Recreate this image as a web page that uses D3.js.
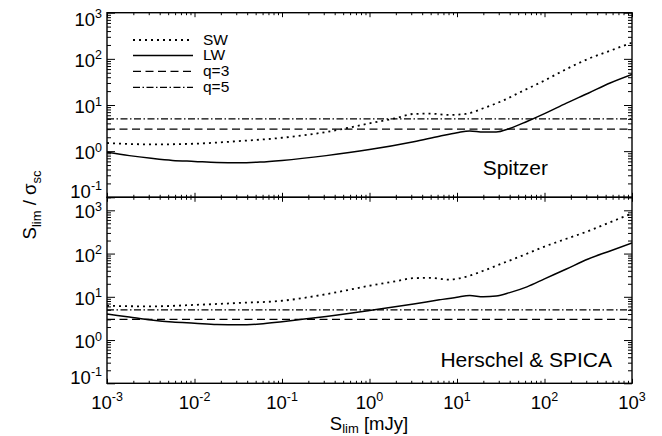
<!DOCTYPE html>
<html><head><meta charset="utf-8">
<script src="https://cdn.jsdelivr.net/npm/d3@7"></script>
<style>body{margin:0;background:#fff}svg{display:block}</style>
</head><body><svg id="c" width="662" height="436"></svg>
<script>
// ---------------- data ----------------
const xTicks = [1e-3, 1e-2, 1e-1, 1, 1e1, 1e2, 1e3];
const xTickExps = ["-3", "-2", "-1", "0", "1", "2", "3"];
const yTicks = [1e-1, 1, 1e1, 1e2, 1e3];
const yTickExps = ["-1", "0", "1", "2", "3"];
const qLevels = [3, 5];
const legendLabels = ["SW", "LW", "q=3", "q=5"];
const panelNames = ["Spitzer", "Herschel & SPICA"];

// Spitzer panel
const spitzerSW_S = [1e-3, 3.2e-3, 1e-2, 3.2e-2, 1e-1, 3.2e-1, 1, 2, 3.2, 5, 8, 12.6, 20, 32, 56, 100, 178, 316, 562, 1000];
const spitzerSW_R = [1.5, 1.4, 1.45, 1.65, 1.95, 2.6, 4.0, 5.2, 6.4, 6.5, 6.1, 6.4, 8.5, 12, 20, 34, 60, 100, 150, 225];
const spitzerLW_S = [1e-3, 1.8e-3, 3.2e-3, 5.6e-3, 1e-2, 1.8e-2, 3.2e-2, 5.6e-2, 1e-1, 3.2e-1, 1, 3.2, 6.3, 10, 14, 20, 28, 40, 63, 100, 178, 316, 562, 1000];
const spitzerLW_R = [0.95, 0.8, 0.7, 0.63, 0.6, 0.57, 0.56, 0.58, 0.63, 0.8, 1.08, 1.6, 2.1, 2.5, 2.75, 2.6, 2.6, 3.1, 4.4, 6.5, 11, 18, 30, 46];

// Herschel & SPICA panel
const herschelSW_S = [1e-3, 3.2e-3, 1e-2, 3.2e-2, 1e-1, 3.2e-1, 1, 2, 3.2, 5, 8, 12.6, 20, 32, 56, 100, 178, 316, 562, 1000];
const herschelSW_R = [6.2, 6.0, 6.5, 7.2, 8.1, 11.5, 18, 23, 27, 27.5, 25, 29, 40, 58, 90, 145, 220, 330, 530, 850];
const herschelLW_S = [1e-3, 1.8e-3, 3.2e-3, 5.6e-3, 1e-2, 1.8e-2, 3.2e-2, 5.6e-2, 1e-1, 1.8e-1, 3.2e-1, 1, 3.2, 6.3, 10, 14, 20, 28, 40, 63, 100, 178, 316, 562, 1000];
const herschelLW_R = [4.0, 3.4, 2.9, 2.6, 2.45, 2.3, 2.25, 2.35, 2.65, 3.05, 3.5, 4.8, 6.8, 8.5, 9.8, 10.7, 10.0, 10.4, 12.5, 17, 26, 44, 75, 115, 175];

// ---------------- drawing ----------------
const FONT = "'Liberation Sans', Arial, Helvetica, sans-serif";
const svg = d3.select("#c").style("font-family", FONT);
const L = 107, R = 632;
const x = d3.scaleLog().domain([1e-3, 1e3]).range([L, R]);

const STY = {
  SW: {dash: "2,4", w: 1.8},
  LW: {dash: null, w: 1.5},
  q3: {dash: "8,4.5", w: 1.3},
  q5: {dash: "7,2.5,1.5,2.5", w: 1.3}
};

const minorX = [];
for (let e = -3; e < 3; e++) for (let m = 2; m <= 9; m++) minorX.push(m * Math.pow(10, e));
const minorY = [];
for (let e = -1; e < 4; e++) for (let m = 2; m <= 9; m++) minorY.push(m * Math.pow(10, e));

const panels = [
  {top: 12.7, bottom: 197.3, ymax: 1e3,
   series: [[spitzerSW_S, spitzerSW_R, STY.SW], [spitzerLW_S, spitzerLW_R, STY.LW]],
   name: panelNames[0], nameX: 548, nameY: 175},
  {top: 197.3, bottom: 383.3, ymax: 2000,
   series: [[herschelSW_S, herschelSW_R, STY.SW], [herschelLW_S, herschelLW_R, STY.LW]],
   name: panelNames[1], nameX: 612, nameY: 366.7}
];

panels.forEach((p, i) => {
  const y = d3.scaleLog().domain([0.1, p.ymax]).range([p.bottom, p.top]);
  const g = svg.append("g");
  const cid = "clip" + i;
  svg.append("clipPath").attr("id", cid).append("rect")
    .attr("x", L).attr("y", p.top).attr("width", R - L).attr("height", p.bottom - p.top);

  const yMin = minorY.filter(v => v <= p.ymax);
  const addAxis = (axis, tx, ty) => {
    const a = g.append("g").attr("transform", `translate(${tx},${ty})`).call(axis);
    a.select(".domain").remove();
    a.selectAll("line").attr("stroke", "#000").attr("stroke-width", 1);
  };
  addAxis(d3.axisLeft(y).tickValues(yTicks).tickSizeInner(-8).tickSizeOuter(0).tickFormat(""), L, 0);
  addAxis(d3.axisLeft(y).tickValues(yMin).tickSizeInner(-4).tickSizeOuter(0).tickFormat(""), L, 0);
  addAxis(d3.axisRight(y).tickValues(yTicks).tickSizeInner(-8).tickSizeOuter(0).tickFormat(""), R, 0);
  addAxis(d3.axisRight(y).tickValues(yMin).tickSizeInner(-4).tickSizeOuter(0).tickFormat(""), R, 0);
  addAxis(d3.axisTop(x).tickValues(xTicks).tickSizeInner(-4.5).tickSizeOuter(0).tickFormat(""), 0, p.top);
  addAxis(d3.axisTop(x).tickValues(minorX).tickSizeInner(-2.5).tickSizeOuter(0).tickFormat(""), 0, p.top);
  addAxis(d3.axisBottom(x).tickValues(xTicks).tickSizeInner(-4.5).tickSizeOuter(0).tickFormat(""), 0, p.bottom);
  addAxis(d3.axisBottom(x).tickValues(minorX).tickSizeInner(-2.5).tickSizeOuter(0).tickFormat(""), 0, p.bottom);

  g.append("rect").attr("x", L).attr("y", p.top).attr("width", R - L).attr("height", p.bottom - p.top)
    .attr("fill", "none").attr("stroke", "#000").attr("stroke-width", 1.4);

  yTicks.forEach((v, k) => {
    let cy = y(v) + 1.5;
    cy = Math.max(p.top + 6.5, Math.min(p.bottom - 6, cy));
    const t = g.append("text").attr("x", 102).attr("y", cy + 6.5)
      .attr("text-anchor", "end").attr("font-size", 18.5).attr("fill", "#000");
    t.append("tspan").text("10");
    t.append("tspan").attr("font-size", 12.5).attr("dy", -7.5).text(yTickExps[k]);
  });

  const cg = g.append("g").attr("clip-path", `url(#${cid})`);
  qLevels.forEach((q, k) => {
    const s = k === 0 ? STY.q3 : STY.q5;
    cg.append("line").attr("x1", L).attr("x2", R).attr("y1", y(q)).attr("y2", y(q))
      .attr("stroke", "#000").attr("stroke-width", s.w).attr("stroke-dasharray", s.dash);
  });

  p.series.forEach(([S, Rv, s]) => {
    const line = d3.line().x(d => x(d[0])).y(d => y(d[1])).curve(d3.curveMonotoneX);
    cg.append("path").datum(S.map((v, j) => [v, Rv[j]])).attr("d", line)
      .attr("fill", "none").attr("stroke", "#000").attr("stroke-width", s.w)
      .attr("stroke-dasharray", s.dash);
  });

  g.append("text").attr("x", p.nameX).attr("y", p.nameY).attr("text-anchor", "end")
    .attr("font-size", 21).attr("fill", "#000").text(p.name);
});

xTicks.forEach((v, k) => {
  const t = svg.append("text").attr("x", x(v)).attr("y", 408.5).attr("text-anchor", "middle")
    .attr("font-size", 18.5).attr("fill", "#000");
  t.append("tspan").text("10");
  t.append("tspan").attr("font-size", 12.5).attr("dy", -7.5).text(xTickExps[k]);
});

const xt = svg.append("text").attr("x", 369).attr("y", 430).attr("text-anchor", "middle")
  .attr("font-size", 18.5).attr("fill", "#000");
xt.append("tspan").text("S");
xt.append("tspan").attr("font-size", 13).attr("dy", 3).text("lim");
xt.append("tspan").attr("dy", -3).text(" [mJy]");

const yt = svg.append("text").attr("transform", "translate(36,205) rotate(-90)")
  .attr("text-anchor", "middle").attr("font-size", 18.5).attr("fill", "#000");
yt.append("tspan").text("S");
yt.append("tspan").attr("font-size", 13).attr("dy", 5).text("lim");
yt.append("tspan").attr("dy", -5).text(" / σ");
yt.append("tspan").attr("font-size", 13).attr("dy", 5).text("sc");

const legStyles = [STY.SW, STY.LW, STY.q3, STY.q5];
const legY = [40, 55.5, 71.3, 87.3];
legendLabels.forEach((lab, k) => {
  const s = legStyles[k];
  svg.append("line").attr("x1", 133).attr("x2", 193).attr("y1", legY[k]).attr("y2", legY[k])
    .attr("stroke", "#000").attr("stroke-width", s.w).attr("stroke-dasharray", s.dash);
  svg.append("text").attr("x", 203).attr("y", legY[k] + 4.5).attr("font-size", 15.5)
    .attr("fill", "#000").text(lab);
});
</script></body></html>
